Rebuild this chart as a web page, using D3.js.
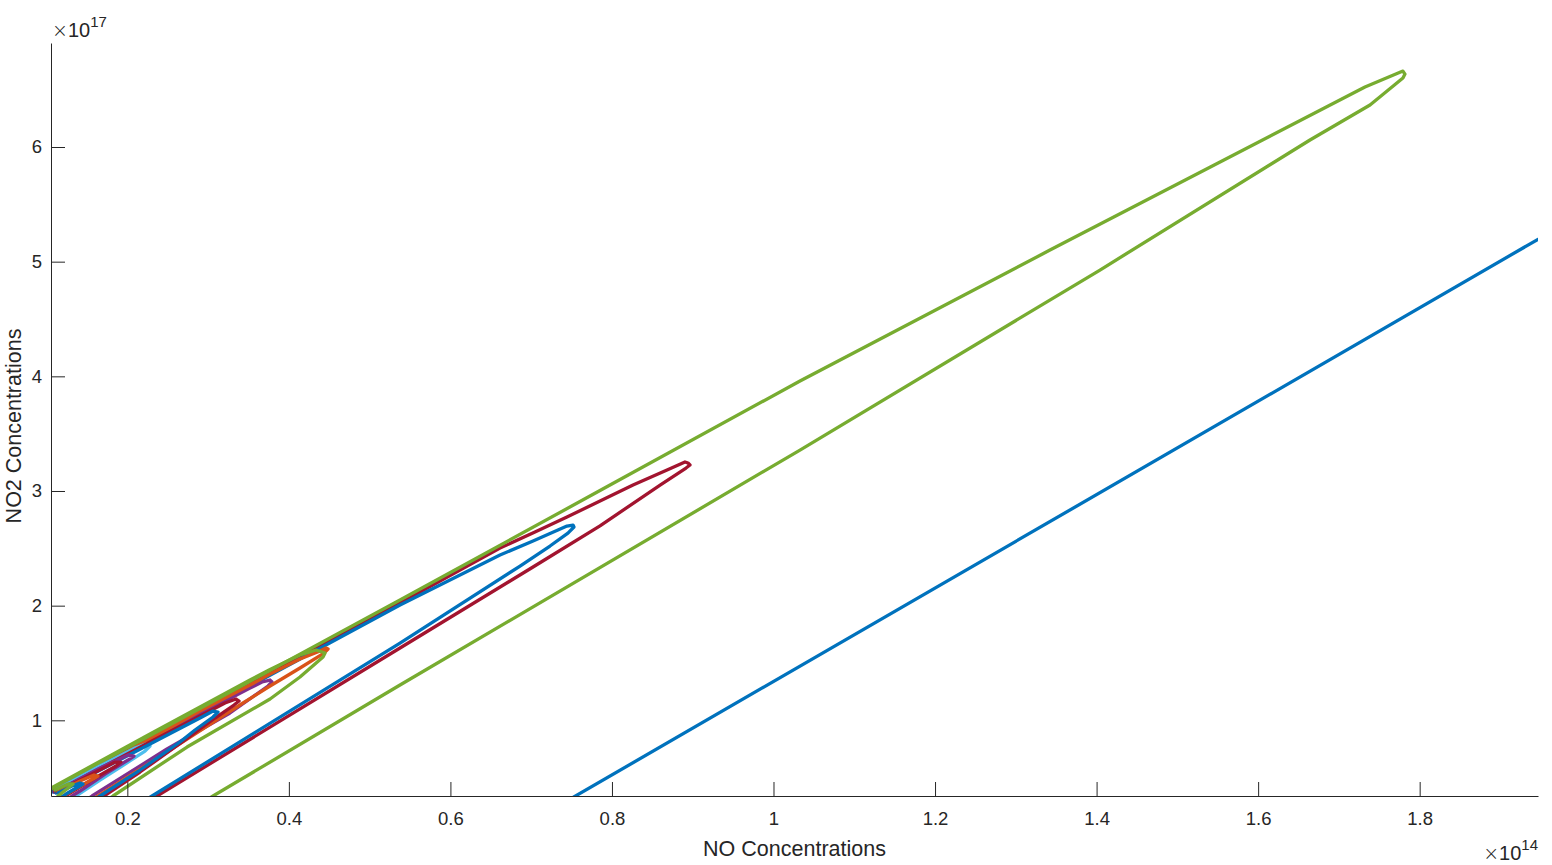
<!DOCTYPE html>
<html><head><meta charset="utf-8">
<script src="https://cdn.jsdelivr.net/npm/d3@7"></script>
<style>
body{margin:0;background:#fff;}
svg{display:block;}
text{font-family:"Liberation Sans",Arial,Helvetica,sans-serif;fill:#262626;}
</style>
</head><body>
<svg id="chart" width="1552" height="865"></svg>
<script>
// ---- axis data (units: x 1e14, y 1e17) ----
const xTicks = [0.2, 0.4, 0.6, 0.8, 1, 1.2, 1.4, 1.6, 1.8];
const yTicks = [1, 2, 3, 4, 5, 6];
const xDomain = [0.1055, 1.9465];
const yDomain = [0.340, 6.907];
const xExponent = "14";
const yExponent = "17";
const xLabel = "NO Concentrations";
const yLabel = "NO2 Concentrations";

// ---- series values ----
const blueLineX = [0.745, 1.96];
const blueLineY = [0.30, 5.25];

const redMidX = [0.1068,0.3519,0.5376,0.6614,0.7047,0.7443,0.8261,0.8682,0.8904,0.8941,0.8966,0.8917,0.8596,0.7852,0.7023,0.5376,0.2368,0.2257];
const redMidY = [0.3835,1.3166,2.023,2.5026,2.6421,2.773,3.052,3.183,3.253,3.2439,3.2264,3.2002,3.052,2.6957,2.3369,1.631,0.340,0.2875];

const blueMidX = [0.1080,0.3519,0.5376,0.6614,0.7023,0.7443,0.7518,0.7530,0.7455,0.7233,0.6862,0.5376,0.2306,0.2182];
const blueMidY = [0.3747,1.299,2.0055,2.4415,2.5636,2.694,2.703,2.686,2.633,2.520,2.3456,1.674,0.340,0.2875];

const purpleX = [0.1093,0.2281,0.2900,0.3519,0.3668,0.3767,0.3791,0.3742,0.3271,0.2491,0.1563,0.1476];
const purpleY = [0.3747,0.8195,1.0549,1.2817,1.3340,1.3514,1.3340,1.2991,1.0637,0.7497,0.340,0.2962];

const orangeX = [0.1105,0.2281,0.2900,0.3519,0.3767,0.4138,0.4386,0.4460,0.4485,0.4435,0.4138,0.3767,0.3432,0.2528,0.1637,0.1538];
const orangeY = [0.3834,0.8369,1.0811,1.3078,1.4038,1.5345,1.6043,1.6305,1.6218,1.5869,1.4561,1.2991,1.1509,0.7410,0.340,0.2962];

const greenSmallX = [0.1055,0.2281,0.2900,0.3519,0.3767,0.4138,0.4336,0.4448,0.4423,0.4138,0.3767,0.2739,0.1823,0.1736];
const greenSmallY = [0.4096,0.8805,1.1160,1.3514,1.4430,1.5695,1.6130,1.5869,1.5520,1.3776,1.1857,0.7672,0.340,0.2962];

const greenBigX = [0.1055,0.2281,0.3519,0.5376,0.7852,1.0328,1.3423,1.7323,1.7793,1.7818,1.7793,1.7385,1.6642,1.4042,1.0328,0.5376,0.3061,0.2900];
const greenBigY = [0.4009,0.868,1.341,2.049,3.004,3.959,5.101,6.523,6.662,6.636,6.601,6.366,6.061,4.927,3.357,1.308,0.340,0.270];

const lightBlueX = [0.1117,0.1662,0.2095,0.2231,0.2281,0.2219,0.1972,0.1662,0.1365,0.1278];
const lightBlueY = [0.3922,0.6015,0.7584,0.7933,0.7759,0.7323,0.6189,0.4794,0.340,0.2962];

const redSmallX = [0.1105,0.2281,0.2900,0.3209,0.3346,0.3383,0.3321,0.3086,0.2714,0.2157,0.1712,0.1625];
const redSmallY = [0.3747,0.8108,1.0375,1.1509,1.1857,1.1683,1.1334,1.0201,0.8282,0.5492,0.340,0.2962];

const blueSmallX = [0.1117,0.2281,0.2900,0.3061,0.3123,0.3061,0.2838,0.2652,0.2157,0.1662,0.1563];
const blueSmallY = [0.366,0.7933,1.0201,1.0811,1.0724,1.0288,0.9154,0.8108,0.5666,0.340,0.2962];

const purpleTinyX = [0.1130,0.1662,0.2009,0.2083,0.2009,0.1724,0.1414,0.1315,0.1229];
const purpleTinyY = [0.3834,0.5840,0.6974,0.6887,0.6538,0.5317,0.3834,0.340,0.2962];

const redTinyX = [0.1130,0.1538,0.1848,0.1922,0.1860,0.1600,0.1291,0.1216];
const redTinyY = [0.3747,0.5230,0.6363,0.6363,0.6015,0.4968,0.3660,0.3311];

const orangeTinyX = [0.1142,0.1414,0.1588,0.1637,0.1575,0.1353,0.1192];
const orangeTinyY = [0.3747,0.4706,0.5230,0.5143,0.4881,0.4009,0.3311];

const blueTinyX = [0.1142,0.1315,0.1414,0.1451,0.1390,0.1241,0.1167];
const blueTinyY = [0.366,0.4271,0.4532,0.4445,0.4184,0.3573,0.3224];

const greenTinyX = [0.1105,0.1266,0.1328,0.1266,0.1142];
const greenTinyY = [0.3922,0.4445,0.4445,0.4096,0.340];

const series = [
  {c:"#0072BD", xs:blueLineX, ys:blueLineY},
  {c:"#A2142F", xs:redMidX, ys:redMidY},
  {c:"#0072BD", xs:blueMidX, ys:blueMidY},
  {c:"#7E2F8E", xs:purpleX, ys:purpleY},
  {c:"#D95319", xs:orangeX, ys:orangeY},
  {c:"#77AC30", xs:greenSmallX, ys:greenSmallY},
  {c:"#77AC30", xs:greenBigX, ys:greenBigY},
  {c:"#4DBEEE", xs:lightBlueX, ys:lightBlueY},
  {c:"#A2142F", xs:redSmallX, ys:redSmallY},
  {c:"#0072BD", xs:blueSmallX, ys:blueSmallY},
  {c:"#7E2F8E", xs:purpleTinyX, ys:purpleTinyY},
  {c:"#A2142F", xs:redTinyX, ys:redTinyY},
  {c:"#D95319", xs:orangeTinyX, ys:orangeTinyY},
  {c:"#0072BD", xs:blueTinyX, ys:blueTinyY},
  {c:"#77AC30", xs:greenTinyX, ys:greenTinyY}
];

// ---- layout ----
const L = 51, R = 1538, T = 43, B = 796;
const svg = d3.select("#chart");
const x = d3.scaleLinear().domain(xDomain).range([L, R]);
const y = d3.scaleLinear().domain(yDomain).range([B, T]);

svg.append("defs").append("clipPath").attr("id","clip")
  .append("rect").attr("x",L).attr("y",T).attr("width",R-L).attr("height",B-T);

const line = d3.line().x(d=>x(d[0])).y(d=>y(d[1])).curve(d3.curveLinear);

svg.append("g").attr("clip-path","url(#clip)")
  .selectAll("path").data(series).join("path")
  .attr("d", s => line(d3.zip(s.xs, s.ys)))
  .attr("fill","none")
  .attr("stroke", s => s.c)
  .attr("stroke-width", 3.3)
  .attr("stroke-linejoin","round")
  .attr("stroke-linecap","round");

const fs = 18.5;
const gx = svg.append("g").attr("transform",`translate(0,${B})`)
  .call(d3.axisBottom(x).tickValues(xTicks).tickFormat(d=>String(d))
    .tickSizeInner(-14).tickSizeOuter(0).tickPadding(16));
const gy = svg.append("g").attr("transform",`translate(${L},0)`)
  .call(d3.axisLeft(y).tickValues(yTicks).tickFormat(d=>String(d))
    .tickSizeInner(-14).tickSizeOuter(0).tickPadding(9));
[gx, gy].forEach(g => {
  g.attr("font-family", null).attr("font-size", null);
  g.selectAll("path,line").attr("stroke","#262626").attr("stroke-width",1);
  g.selectAll("text").style("font-size", fs+"px").attr("fill","#262626");
});

// axis labels
svg.append("text").attr("x",(L+R)/2).attr("y",856).attr("text-anchor","middle")
  .style("font-size","21.5px").text(xLabel);
svg.append("text").attr("transform",`translate(21,426) rotate(-90)`)
  .attr("text-anchor","middle").style("font-size","21.5px").text(yLabel);

// exponent labels
function expLabel(xp, yp, anchor, exp) {
  const t = svg.append("text").attr("x",xp).attr("y",yp).attr("text-anchor",anchor).style("font-size","20px");
  t.append("tspan").style("font-family","'DejaVu Sans'").style("font-weight","200").style("font-size","19px").text("\u00D7");
  t.append("tspan").text("10");
  t.append("tspan").attr("dy",-10).style("font-size","15px").text(exp);
}
expLabel(52, 37, "start", yExponent);
expLabel(1538, 860, "end", xExponent);
</script>
</body></html>
